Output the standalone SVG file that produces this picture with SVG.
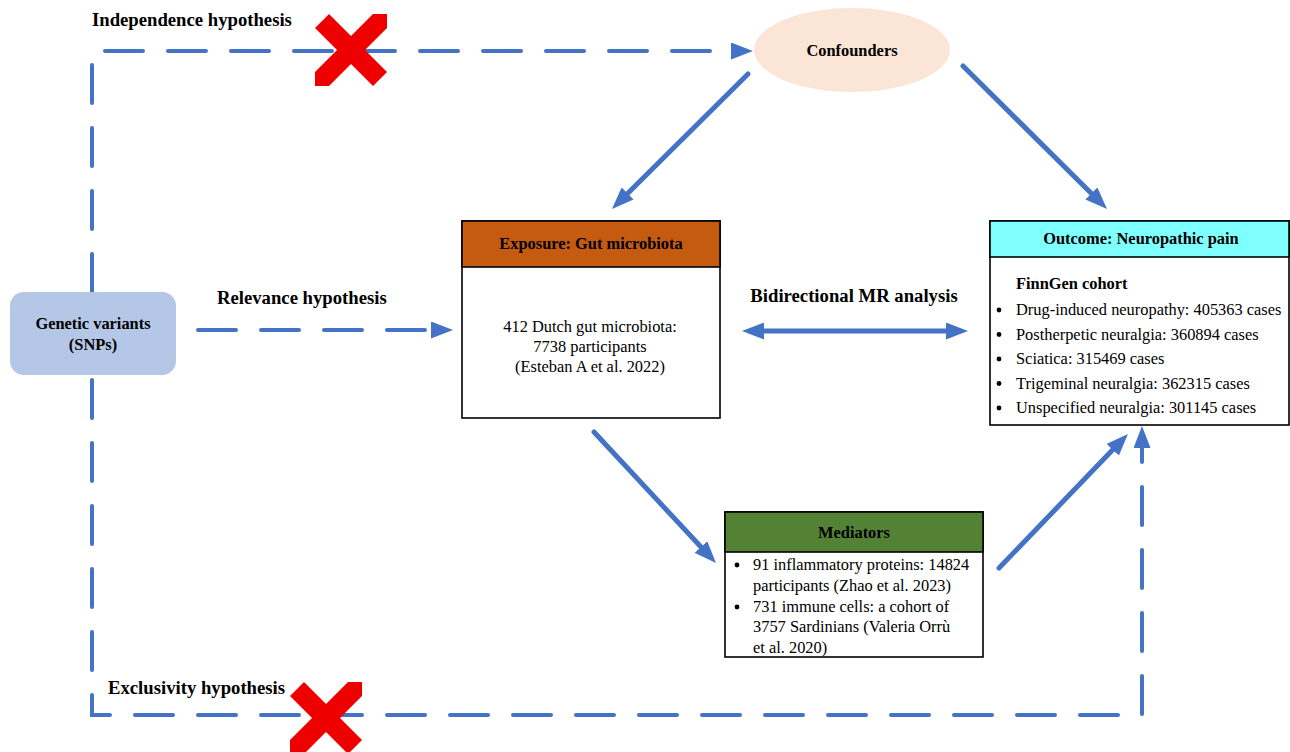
<svg xmlns="http://www.w3.org/2000/svg" width="1290" height="752" viewBox="0 0 1290 752">
<style>
.t{font-family:"Liberation Serif","Times New Roman",serif;font-size:16.4px;fill:#000}
.b{font-weight:bold}
.h{font-size:18.7px;font-weight:bold}
.box{stroke:#000;stroke-width:1.6}
.conn{stroke:#4472c4;stroke-width:5;fill:none;stroke-linecap:round}
.dash{stroke:#4472c4;stroke-width:4;fill:none;stroke-linecap:round;stroke-dasharray:38 25}
.x{fill:#ee0000}
</style>
<defs>
<marker id="ah" viewBox="0 0 22 17" refX="0" refY="8.5" markerWidth="22" markerHeight="17" markerUnits="userSpaceOnUse" orient="auto-start-reverse">
<path d="M0,0 L22,8.5 L0,17 z" fill="#4472c4"/>
</marker>
<polygon id="cross" points="-36,-22 -22,-36 0,-14 22,-36 36,-36 36,-22 14,0 36,22 22,36 0,14 -22,36 -36,36 -36,22 -14,0"/>
</defs>

<g id="connectors">
<path class="dash" d="M105,51 H731" marker-end="url(#ah)"/>
<path class="dash" d="M92,65 V715 H1142 V448" marker-end="url(#ah)"/>
<path class="dash" d="M198,330 H431" marker-end="url(#ah)"/>
<path class="conn" d="M748,74 L627.6,193.5" marker-end="url(#ah)"/>
<path class="conn" d="M963,66 L1091.4,193.5" marker-end="url(#ah)"/>
<path class="conn" d="M594,432 L701,547" marker-end="url(#ah)"/>
<path class="conn" d="M999,568 L1112.7,449.8" marker-end="url(#ah)"/>
<path class="conn" d="M764,331 H946" marker-start="url(#ah)" marker-end="url(#ah)"/>
</g>

<g id="labels">
<text class="t h" x="92" y="26">Independence hypothesis</text>
<text class="t h" x="217" y="304">Relevance hypothesis</text>
<text class="t h" x="854" y="302" text-anchor="middle">Bidirectional MR analysis</text>
<text class="t h" x="108" y="694">Exclusivity hypothesis</text>
</g>

<g id="marks">
<use href="#cross" class="x" x="351" y="50"/>
<use href="#cross" class="x" x="326" y="718"/>
</g>

<g id="confounders">
<ellipse cx="852" cy="50" rx="98" ry="42" fill="#fbe5d6"/>
<text class="t b" x="852" y="56" text-anchor="middle">Confounders</text>
</g>

<g id="genetic-variants">
<rect x="10" y="292" width="166" height="83" rx="14" fill="#b4c7e7"/>
<text class="t b" x="93" y="329" text-anchor="middle">Genetic variants</text>
<text class="t b" x="93" y="350" text-anchor="middle">(SNPs)</text>
</g>

<g id="exposure">
<rect class="box" x="462" y="221" width="258" height="197" fill="#fff"/>
<rect class="box" x="462" y="221" width="258" height="46" fill="#c55a11"/>
<text class="t b" x="591" y="249" text-anchor="middle">Exposure: Gut microbiota</text>
<text class="t" x="590" y="332" text-anchor="middle">412 Dutch gut microbiota:</text>
<text class="t" x="590" y="352" text-anchor="middle">7738 participants</text>
<text class="t" x="590" y="372" text-anchor="middle">(Esteban A et al. 2022)</text>
</g>

<g id="outcome">
<rect class="box" x="990" y="221" width="299" height="204" fill="#fff"/>
<rect class="box" x="990" y="221" width="299" height="36" fill="#80ffff"/>
<text class="t b" x="1141" y="244" text-anchor="middle">Outcome: Neuropathic pain</text>
<text class="t b" x="1016" y="289">FinnGen cohort</text>
<g fill="#000">
<circle cx="999" cy="310" r="2.4"/>
<circle cx="999" cy="334.5" r="2.4"/>
<circle cx="999" cy="359" r="2.4"/>
<circle cx="999" cy="383.5" r="2.4"/>
<circle cx="999" cy="408" r="2.4"/>
</g>
<text class="t" x="1016" y="315">Drug-induced neuropathy: 405363 cases</text>
<text class="t" x="1016" y="339.5">Postherpetic neuralgia: 360894 cases</text>
<text class="t" x="1016" y="364">Sciatica: 315469 cases</text>
<text class="t" x="1016" y="388.5">Trigeminal neuralgia: 362315 cases</text>
<text class="t" x="1016" y="413">Unspecified neuralgia: 301145 cases</text>
</g>

<g id="mediators">
<rect class="box" x="725" y="512" width="258" height="145" fill="#fff"/>
<rect class="box" x="725" y="512" width="258" height="40" fill="#548235"/>
<text class="t b" x="854" y="538" text-anchor="middle">Mediators</text>
<g fill="#000">
<circle cx="737" cy="565" r="2.4"/>
<circle cx="737" cy="607" r="2.4"/>
</g>
<text class="t" x="753" y="570">91 inflammatory proteins: 14824</text>
<text class="t" x="753" y="591">participants (Zhao et al. 2023)</text>
<text class="t" x="753" y="612">731 immune cells: a cohort of</text>
<text class="t" x="753" y="632">3757 Sardinians (Valeria Orrù</text>
<text class="t" x="753" y="653">et al. 2020)</text>
</g>
</svg>
